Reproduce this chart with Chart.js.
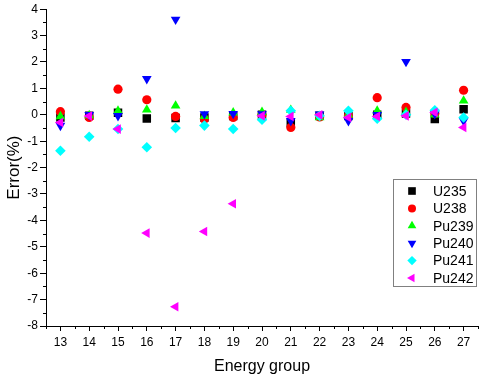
<!DOCTYPE html>
<html>
<head>
<meta charset="utf-8">
<script src="https://cdn.jsdelivr.net/npm/chart.js@4"></script>
<style>
  html, body { margin: 0; padding: 0; background: #fff; }
  #wrap { width: 484px; height: 380px; }
</style>
</head>
<body>
<div id="wrap"><canvas id="errChart" width="484" height="380"></canvas></div>
<script>
// energy groups on the x axis
var groups = [13, 14, 15, 16, 17, 18, 19, 20, 21, 22, 23, 24, 25, 26, 27];
var xTicks = [13, 14, 15, 16, 17, 18, 19, 20, 21, 22, 23, 24, 25, 26, 27];
var yTicks = [-8, -7, -6, -5, -4, -3, -2, -1, 0, 1, 2, 3, 4];

// error (%) per nuclide
var u235  = [-0.10, -0.04, 0.08, -0.14, -0.12, -0.10, -0.05, 0.00, -0.30, -0.04, -0.05, 0.00, 0.05, -0.16, 0.21];
var u238  = [0.12, -0.10, 0.97, 0.57, -0.06, -0.16, -0.10, 0.00, -0.48, -0.08, -0.05, 0.65, 0.28, 0.05, 0.93];
var pu239 = [-0.06, -0.02, 0.15, 0.19, 0.34, -0.05, 0.08, 0.10, 0.18, -0.10, 0.00, 0.15, 0.10, 0.00, 0.53];
var pu240 = [-0.41, 0.00, -0.04, 1.36, 3.61, 0.03, 0.04, 0.03, -0.23, 0.02, -0.23, 0.00, 2.01, 0.03, -0.23];
var pu241 = [-1.36, -0.83, -0.54, -1.23, -0.50, -0.41, -0.54, -0.19, 0.15, -0.04, 0.15, -0.15, 0.00, 0.17, -0.10];
var pu242 = [-0.29, -0.05, -0.54, -4.48, -7.27, -4.42, -3.37, -0.04, -0.06, 0.00, -0.10, -0.06, -0.04, 0.09, -0.48];

var names = ['U235', 'U238', 'Pu239', 'Pu240', 'Pu241', 'Pu242'];
var series = [u235, u238, pu239, pu240, pu241, pu242];
var colors = ['#000000', '#ff0000', '#00ff00', '#0000ff', '#00ffff', '#ff00ff'];
var styles = ['rect', 'circle', 'triangle', 'triangle', 'rectRot', 'triangle'];
var rotations = [0, 0, 0, 180, 0, 270];
var radii = [6, 4.6, 5.6, 5.6, 5.3, 5.6];

function toPoints(vals) {
  var pts = [];
  for (var i = 0; i < groups.length; i++) pts.push({ x: groups[i], y: vals[i] });
  return pts;
}

var datasets = [];
for (var j = 0; j < names.length; j++) {
  datasets.push({
    label: names[j],
    data: toPoints(series[j]),
    showLine: false,
    pointStyle: styles[j],
    rotation: rotations[j],
    pointRadius: radii[j],
    pointBackgroundColor: colors[j],
    pointBorderColor: colors[j],
    pointBorderWidth: 0,
    order: names.length - j
  });
}

var font = "'Liberation Sans', Arial, sans-serif";

// minor ticks + legend box
var extras = {
  id: 'extras',
  afterDraw: function (chart) {
    var ctx = chart.ctx;
    var xs = chart.scales.x, ys = chart.scales.y;
    var area = chart.chartArea;
    ctx.save();
    ctx.strokeStyle = '#000';
    ctx.lineWidth = 1;
    ctx.beginPath();
    for (var v = -7.5; v < 4; v += 1) {
      var py = Math.round(ys.getPixelForValue(v)) + 0.5;
      ctx.moveTo(area.left - 3, py);
      ctx.lineTo(area.left, py);
    }
    for (var u = 12.5; u <= 27.5; u += 1) {
      var px = Math.round(xs.getPixelForValue(u)) + 0.5;
      ctx.moveTo(px, area.bottom);
      ctx.lineTo(px, area.bottom + 3);
    }
    ctx.stroke();

    // legend
    var lx = 393.5, ly = 179.5, lw = 83, lh = 107;
    ctx.strokeStyle = '#808080';
    ctx.strokeRect(lx, ly, lw, lh);
    ctx.font = '14px ' + font;
    ctx.textBaseline = 'middle';
    ctx.textAlign = 'left';
    for (var k = 0; k < names.length; k++) {
      var cy = ly + 11.5 + k * 17.4;
      ctx.fillStyle = colors[k];
      ctx.strokeStyle = colors[k];
      Chart.helpers.drawPoint(ctx, {
        pointStyle: styles[k], rotation: rotations[k], radius: radii[k] - 0.6, borderWidth: 0
      }, 412, cy);
      ctx.fillStyle = '#000';
      ctx.fillText(names[k], 433, cy + 1);
    }
    ctx.restore();
  }
};

new Chart(document.getElementById('errChart'), {
  type: 'scatter',
  data: { datasets: datasets },
  options: {
    responsive: false,
    animation: false,
    layout: { padding: { top: 8, right: 1, left: 0, bottom: 0 } },
    plugins: { legend: { display: false }, tooltip: { enabled: false } },
    scales: {
      x: {
        type: 'linear',
        min: 12.5,
        max: 27.5,
        afterBuildTicks: function (scale) {
          scale.ticks = xTicks.map(function (v) { return { value: v }; });
        },
        afterFit: function (scale) { scale.height = 54; },
        grid: { display: true, drawOnChartArea: false, drawTicks: true, tickLength: 5, color: '#000' },
        border: { display: true, color: '#000', width: 1 },
        ticks: { color: '#000', font: { family: font, size: 12 }, padding: 4, maxRotation: 0 },
        title: { display: true, text: 'Energy group', color: '#000', font: { family: font, size: 16 }, padding: { top: 3 } }
      },
      y: {
        min: -8,
        max: 4,
        afterBuildTicks: function (scale) {
          scale.ticks = yTicks.map(function (v) { return { value: v }; });
        },
        afterFit: function (scale) { scale.width = 46; },
        grid: { display: true, drawOnChartArea: false, drawTicks: true, tickLength: 6, color: '#000' },
        border: { display: true, color: '#000', width: 1 },
        ticks: { color: '#000', font: { family: font, size: 12 }, padding: 2 },
        title: { display: true, text: 'Error(%)', color: '#000', font: { family: font, size: 17 }, padding: { bottom: 0 } }
      }
    }
  },
  plugins: [extras]
});
</script>
</body>
</html>
